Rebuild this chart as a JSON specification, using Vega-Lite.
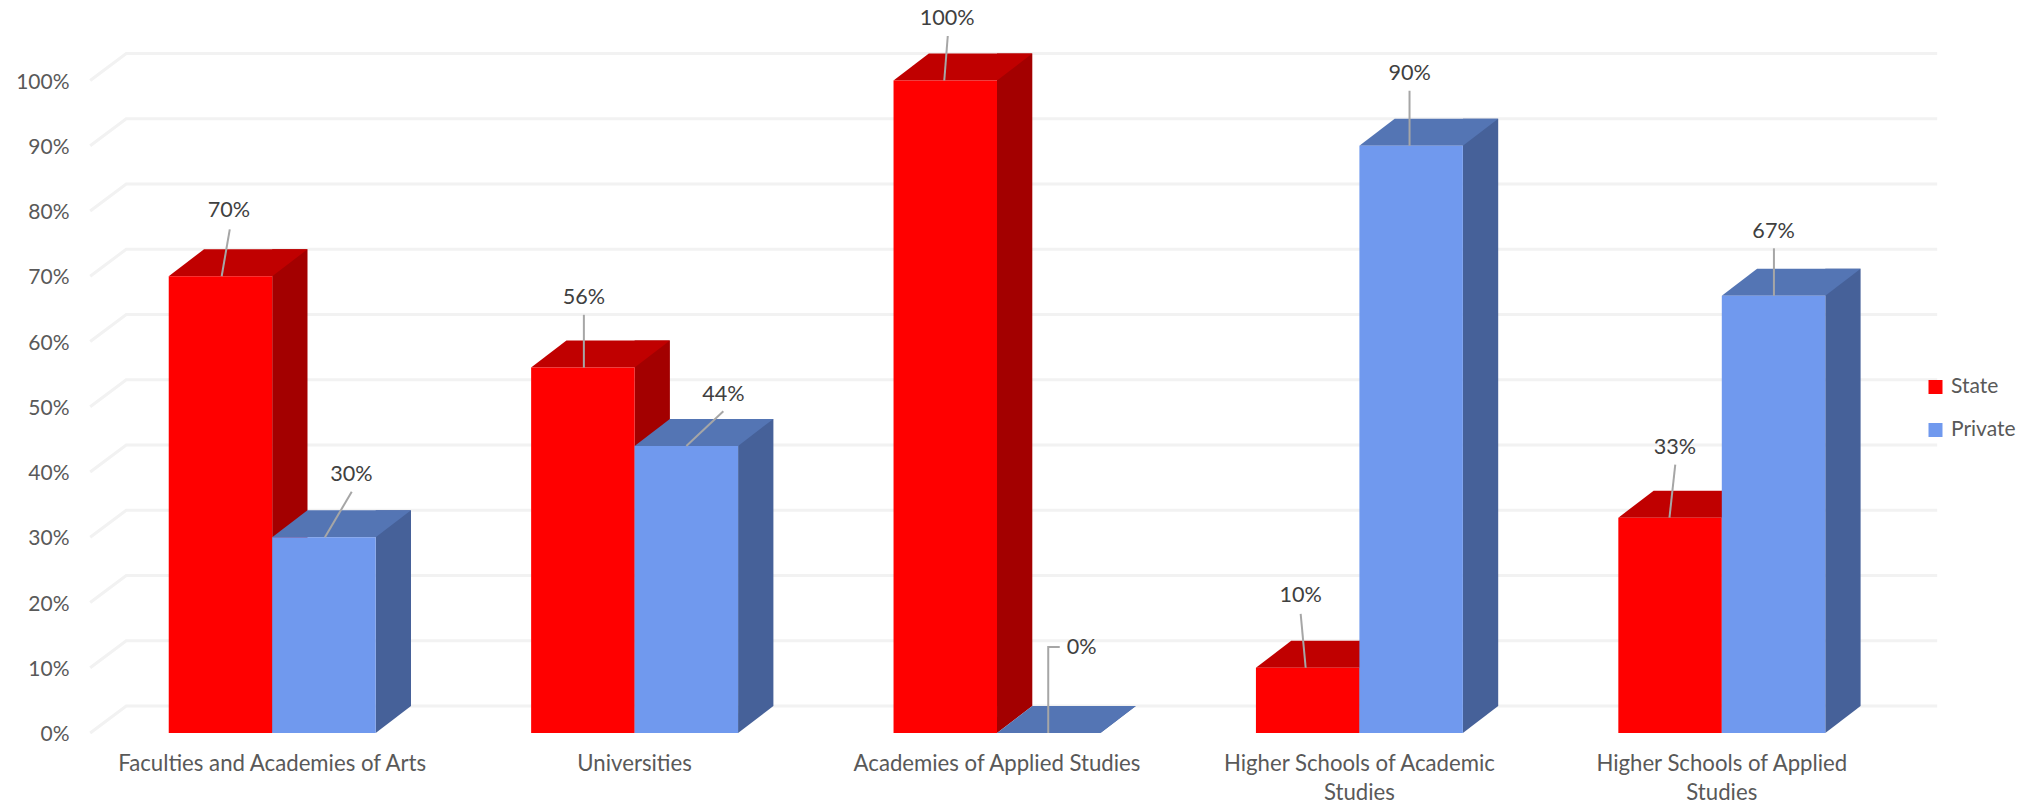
{
"$schema":"https://vega.github.io/schema/vega-lite/v6.json",
"autosize":{"type":"none"},
"padding":{"left":91,"top":80.5,"right":141,"bottom":73},
"width":1812,"height":652.5,
"background":"white",
"config":{"view":{"stroke":null},"font":"Lato"},
"data":{"values":[
{"category":"Faculties and Academies of Arts","series":"State","value":0.70},
{"category":"Faculties and Academies of Arts","series":"Private","value":0.30},
{"category":"Universities","series":"State","value":0.56},
{"category":"Universities","series":"Private","value":0.44},
{"category":"Academies of Applied Studies","series":"State","value":1.00},
{"category":"Academies of Applied Studies","series":"Private","value":0.00},
{"category":"Higher Schools of Academic Studies","series":"State","value":0.10},
{"category":"Higher Schools of Academic Studies","series":"Private","value":0.90},
{"category":"Higher Schools of Applied Studies","series":"State","value":0.33},
{"category":"Higher Schools of Applied Studies","series":"Private","value":0.67}
]},
"layer":[
{"data":{"values":[{"tick":0},{"tick":0.1},{"tick":0.2},{"tick":0.3},{"tick":0.4},{"tick":0.5},{"tick":0.6},{"tick":0.7},{"tick":0.8},{"tick":0.9},{"tick":1}]},
 "mark":{"type":"point","shape":"M -182 0 L -146 -27 L 1665 -27","size":4,"filled":false,"stroke":"#F2F2F2","strokeWidth":3,"opacity":1},
 "encoding":{
  "x":{"datum":"Faculties and Academies of Arts","type":"nominal","title":null,"scale":{"domain":["Faculties and Academies of Arts","Universities","Academies of Applied Studies","Higher Schools of Academic Studies","Higher Schools of Applied Studies"],"paddingInner":0.429,"paddingOuter":0.2145},
   "axis":{"domain":false,"ticks":false,"labelAngle":0,"labelPadding":19,"labelFontSize":22.2,"labelColor":"#595959","labelFont":"Lato","labelLimit":500,"labelLineHeight":29,"labelBaseline":"top","labelExpr":"datum.label=='Higher Schools of Academic Studies'?['Higher Schools of Academic','Studies']:datum.label=='Higher Schools of Applied Studies'?['Higher Schools of Applied','Studies']:datum.label"}},
  "y":{"field":"tick","type":"quantitative","title":null,"scale":{"domain":[0,1],"nice":false},
   "axis":{"domain":false,"ticks":false,"grid":false,"values":[0,0.1,0.2,0.3,0.4,0.5,0.6,0.7,0.8,0.9,1],"format":".0%","labelPadding":22,"labelOffset":1.5,"labelFontSize":21,"labelColor":"#595959","labelFont":"Lato"}}
 }},
{"encoding":{
  "x":{"field":"category","type":"nominal","sort":null,"title":null},
  "xOffset":{"field":"series","type":"nominal","scale":{"domain":["State","Private"],"paddingInner":0,"paddingOuter":0}},
  "y":{"field":"value","type":"quantitative","title":null}
 },
 "layer":[
 {"transform":[{"filter":"datum.series=='State'"}],"layer":[
  {"mark":{"type":"bar","color":"#A30000","width":35.3,"xOffset":17.65,"yOffset":-27,"y2Offset":-27},"encoding":{"xOffset":null}},
  {"mark":{"type":"point","shape":"M 51.75 0 L 87.05 -27 L 51.75 -27 Z","size":4,"filled":true,"fill":"#A30000","opacity":1},"encoding":{"y":{"datum":0}}},
  {"mark":{"type":"point","shape":"M -51.75 0 L -16.45 -27 L 87.05 -27 L 51.75 0 Z","size":4,"filled":true,"fill":"#C00000","opacity":1}}
 ]},
 {"transform":[{"filter":"datum.series=='State'"}],"mark":{"type":"bar"},"encoding":{"color":{"field":"series","type":"nominal","title":null,"scale":{"domain":["State","Private"],"range":["#FF0000","#7099EE"]},"legend":{"orient":"none","legendX":1834,"legendY":296,"title":null,"symbolType":"square","symbolSize":196,"symbolStrokeWidth":0,"labelFontSize":21,"labelColor":"#595959","labelFont":"Lato","labelOffset":5,"rowPadding":21}}}},
 {"transform":[{"filter":"datum.series=='Private'"}],"layer":[
  {"mark":{"type":"bar","color":"#466199","width":35.3,"xOffset":121.15,"yOffset":-27,"y2Offset":-27},"encoding":{"xOffset":null}},
  {"mark":{"type":"point","shape":"M 51.75 0 L 87.05 -27 L 51.75 -27 Z","size":4,"filled":true,"fill":"#466199","opacity":1},"encoding":{"y":{"datum":0}}},
  {"mark":{"type":"point","shape":"M -51.75 0 L -16.45 -27 L 87.05 -27 L 51.75 0 Z","size":4,"filled":true,"fill":"#5475B4","opacity":1}}
 ]},
 {"transform":[{"filter":"datum.series=='Private'"}],"mark":{"type":"bar"},"encoding":{"color":{"field":"series","type":"nominal","title":null}}},

 {"transform":[{"filter":"datum.category=='Faculties and Academies of Arts'&&datum.series=='State'"}],"layer":[
  {"mark":{"type":"point","shape":"M 9.3 -46.9 L 1.2 0","size":4,"filled":false,"stroke":"#A6A6A6","strokeWidth":2,"opacity":1}},
  {"mark":{"type":"text","dx":8.5,"dy":-64.9,"fontSize":21.6,"color":"#404040","font":"Lato"},"encoding":{"text":{"field":"value","format":".0%"}}}]},
 {"transform":[{"filter":"datum.category=='Faculties and Academies of Arts'&&datum.series=='Private'"}],"layer":[
  {"mark":{"type":"point","shape":"M 27.8 -45.5 L 1 0","size":4,"filled":false,"stroke":"#A6A6A6","strokeWidth":2,"opacity":1}},
  {"mark":{"type":"text","dx":27.5,"dy":-62.5,"fontSize":21.6,"color":"#404040","font":"Lato"},"encoding":{"text":{"field":"value","format":".0%"}}}]},
 {"transform":[{"filter":"datum.category=='Universities'&&datum.series=='State'"}],"layer":[
  {"mark":{"type":"point","shape":"M 1 -52.8 L 1 0","size":4,"filled":false,"stroke":"#A6A6A6","strokeWidth":2,"opacity":1}},
  {"mark":{"type":"text","dx":1,"dy":-69.8,"fontSize":21.6,"color":"#404040","font":"Lato"},"encoding":{"text":{"field":"value","format":".0%"}}}]},
 {"transform":[{"filter":"datum.category=='Universities'&&datum.series=='Private'"}],"layer":[
  {"mark":{"type":"point","shape":"M 37 -34.6 L 0 0","size":4,"filled":false,"stroke":"#A6A6A6","strokeWidth":2,"opacity":1}},
  {"mark":{"type":"text","dx":37,"dy":-50.9,"fontSize":21.6,"color":"#404040","font":"Lato"},"encoding":{"text":{"field":"value","format":".0%"}}}]},
 {"transform":[{"filter":"datum.category=='Academies of Applied Studies'&&datum.series=='State'"}],"layer":[
  {"mark":{"type":"point","shape":"M 2.5 -44.5 L -1 0","size":4,"filled":false,"stroke":"#A6A6A6","strokeWidth":2,"opacity":1}},
  {"mark":{"type":"text","dx":1.8,"dy":-62,"fontSize":21.6,"color":"#404040","font":"Lato"},"encoding":{"text":{"field":"value","format":".0%"}}}]},
 {"transform":[{"filter":"datum.category=='Academies of Applied Studies'&&datum.series=='Private'"}],"layer":[
  {"mark":{"type":"point","shape":"M 11 -86 L -0.5 -86 L -0.5 0","size":4,"filled":false,"stroke":"#A6A6A6","strokeWidth":2,"opacity":1}},
  {"mark":{"type":"text","dx":33,"dy":-85,"fontSize":21.6,"color":"#404040","font":"Lato"},"encoding":{"text":{"field":"value","format":".0%"}}}]},
 {"transform":[{"filter":"datum.category=='Higher Schools of Academic Studies'&&datum.series=='State'"}],"layer":[
  {"mark":{"type":"point","shape":"M -7 -53.8 L -2 0","size":4,"filled":false,"stroke":"#A6A6A6","strokeWidth":2,"opacity":1}},
  {"mark":{"type":"text","dx":-7,"dy":-71.4,"fontSize":21.6,"color":"#404040","font":"Lato"},"encoding":{"text":{"field":"value","format":".0%"}}}]},
 {"transform":[{"filter":"datum.category=='Higher Schools of Academic Studies'&&datum.series=='Private'"}],"layer":[
  {"mark":{"type":"point","shape":"M -1.6 -55 L -1.6 0","size":4,"filled":false,"stroke":"#A6A6A6","strokeWidth":2,"opacity":1}},
  {"mark":{"type":"text","dx":-1.4,"dy":-72,"fontSize":21.6,"color":"#404040","font":"Lato"},"encoding":{"text":{"field":"value","format":".0%"}}}]},
 {"transform":[{"filter":"datum.category=='Higher Schools of Applied Studies'&&datum.series=='State'"}],"layer":[
  {"mark":{"type":"point","shape":"M 5.2 -53.1 L -0.6 0","size":4,"filled":false,"stroke":"#A6A6A6","strokeWidth":2,"opacity":1}},
  {"mark":{"type":"text","dx":4.8,"dy":-69.9,"fontSize":21.6,"color":"#404040","font":"Lato"},"encoding":{"text":{"field":"value","format":".0%"}}}]},
 {"transform":[{"filter":"datum.category=='Higher Schools of Applied Studies'&&datum.series=='Private'"}],"layer":[
  {"mark":{"type":"point","shape":"M 0.4 -47.5 L 0.4 0","size":4,"filled":false,"stroke":"#A6A6A6","strokeWidth":2,"opacity":1}},
  {"mark":{"type":"text","dx":0,"dy":-63.5,"fontSize":21.6,"color":"#404040","font":"Lato"},"encoding":{"text":{"field":"value","format":".0%"}}}]}
 ]}
]
}
